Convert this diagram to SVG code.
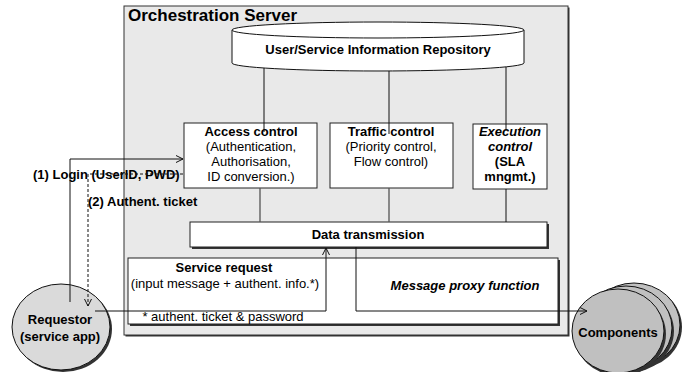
<svg xmlns="http://www.w3.org/2000/svg" width="685" height="372" viewBox="0 0 685 372">
  <style>
    text { font-family: "Liberation Sans", Arial, sans-serif; font-size: 13px; fill: #000; }
    .b { font-weight: bold; }
    .bi { font-weight: bold; font-style: italic; }
    .mid { text-anchor: middle; }
    .title { font-size: 17px; font-weight: bold; }
    .box { fill: #fff; stroke: #222; stroke-width: 1; }
    .shadow { fill: #333; }
    .wire { fill: none; stroke: #111; stroke-width: 1; }
    .link { fill: none; stroke: #555; stroke-width: 1.3; }
    .dash { fill: none; stroke: #111; stroke-width: 1; stroke-dasharray: 3 2; }
  </style>
  <defs>
    <marker id="open" viewBox="0 0 8 8" refX="7" refY="4" markerWidth="8" markerHeight="8" markerUnits="userSpaceOnUse" orient="auto">
      <path d="M0,0.5 L7,4 L0,7.5" fill="none" stroke="#111" stroke-width="1"/>
    </marker>
  </defs>

  <!-- Server frame -->
  <g id="orchestration-server">
    <rect x="125.5" y="7.5" width="444" height="329" class="shadow"/>
    <rect x="124" y="6" width="444" height="329" fill="#e9e9e9" stroke="#333" stroke-width="1"/>
    <text x="128" y="21" class="title">Orchestration Server</text>
  </g>

  <!-- Repository cylinder -->
  <g id="repository">
    <path d="M232,30 V63 A146,8 0 0 0 524,63 V30" fill="#fff" stroke="#111" stroke-width="1"/>
    <ellipse cx="378" cy="30" rx="146" ry="8" fill="#fff" stroke="#111" stroke-width="1"/>
    <text x="378" y="54" class="b mid">User/Service Information Repository</text>
  </g>

  <g id="access-control">
    <rect x="184" y="123" width="133" height="65" class="box"/>
    <text x="251" y="136" class="b mid">Access control</text>
    <text x="251" y="151" class="mid">(Authentication,</text>
    <text x="251" y="166" class="mid">Authorisation,</text>
    <text x="251" y="181" class="mid">ID conversion.)</text>
  </g>

  <g id="traffic-control">
    <rect x="330" y="123" width="123" height="65" class="box"/>
    <text x="391" y="136" class="b mid">Traffic control</text>
    <text x="391" y="151" class="mid">(Priority control,</text>
    <text x="391" y="166" class="mid">Flow control)</text>
  </g>

  <g id="execution-control">
    <rect x="473" y="124" width="74" height="65" class="box"/>
    <text x="510" y="136" class="bi mid">Execution</text>
    <text x="510" y="151" class="bi mid">control</text>
    <text x="510" y="166" class="b mid">(SLA</text>
    <text x="510" y="181" class="b mid">mngmt.)</text>
  </g>

  <g id="data-transmission">
    <rect x="192" y="224" width="357" height="25" class="shadow"/>
    <rect x="190" y="222" width="357" height="25" class="box"/>
    <text x="368" y="239" class="b mid">Data transmission</text>
  </g>

  <g id="service-request">
    <rect x="130" y="260" width="430" height="66" class="shadow"/>
    <rect x="128" y="258" width="430" height="66" class="box"/>
    <text x="224" y="272" class="b mid">Service request</text>
    <text x="225" y="288" class="mid">(input message + authent. info.*)</text>
    <text x="223" y="321" class="mid">* authent. ticket &amp; password</text>
    <text x="465" y="290" class="bi mid">Message proxy function</text>
  </g>

  <g id="requestor">
    <ellipse cx="63" cy="329" rx="49" ry="43" class="shadow"/>
    <ellipse cx="61" cy="327" rx="49" ry="43" fill="#dadada" stroke="#111" stroke-width="1"/>
    <text x="60" y="324" class="b mid">Requestor</text>
    <text x="60" y="341" class="b mid">(service app)</text>
  </g>

  <g id="components">
    <ellipse cx="636" cy="327" rx="46" ry="42" class="shadow"/>
    <ellipse cx="634" cy="325" rx="46" ry="42" fill="#c0c0c0" stroke="#111" stroke-width="1"/>
    <ellipse cx="628" cy="331" rx="46" ry="42" class="shadow"/>
    <ellipse cx="626" cy="328" rx="46" ry="42" fill="#c0c0c0" stroke="#111" stroke-width="1"/>
    <ellipse cx="620" cy="334" rx="46" ry="42" class="shadow"/>
    <ellipse cx="618" cy="331" rx="46" ry="42" fill="#c0c0c0" stroke="#111" stroke-width="1"/>
    <text x="618" y="337" class="b mid">Components</text>
  </g>

  <!-- Flow labels -->
  <g id="labels">
    <text x="33" y="179" class="b">(1) Login (UserID, PWD)</text>
    <text x="88" y="206" class="b">(2) Authent. ticket</text>
  </g>

  <!-- Connectors -->
  <g id="connectors">
    <path class="wire" d="M264,68 V132"/>
    <path class="wire" d="M389,71 V134"/>
    <path class="wire" d="M506,67 V131"/>
    <path class="link" d="M260,188 V222"/>
    <path class="link" d="M389,188 V222"/>
    <path class="wire" d="M506,189 V222"/>
    <path class="wire" d="M70,302 V159 H183" marker-end="url(#open)"/>
    <path class="dash" d="M183,174 H88 V306" marker-end="url(#open)"/>
    <path class="wire" d="M95,311 H326 V248" marker-end="url(#open)"/>
    <path class="wire" d="M356,247 V311 H587" marker-end="url(#open)"/>
  </g>
</svg>
